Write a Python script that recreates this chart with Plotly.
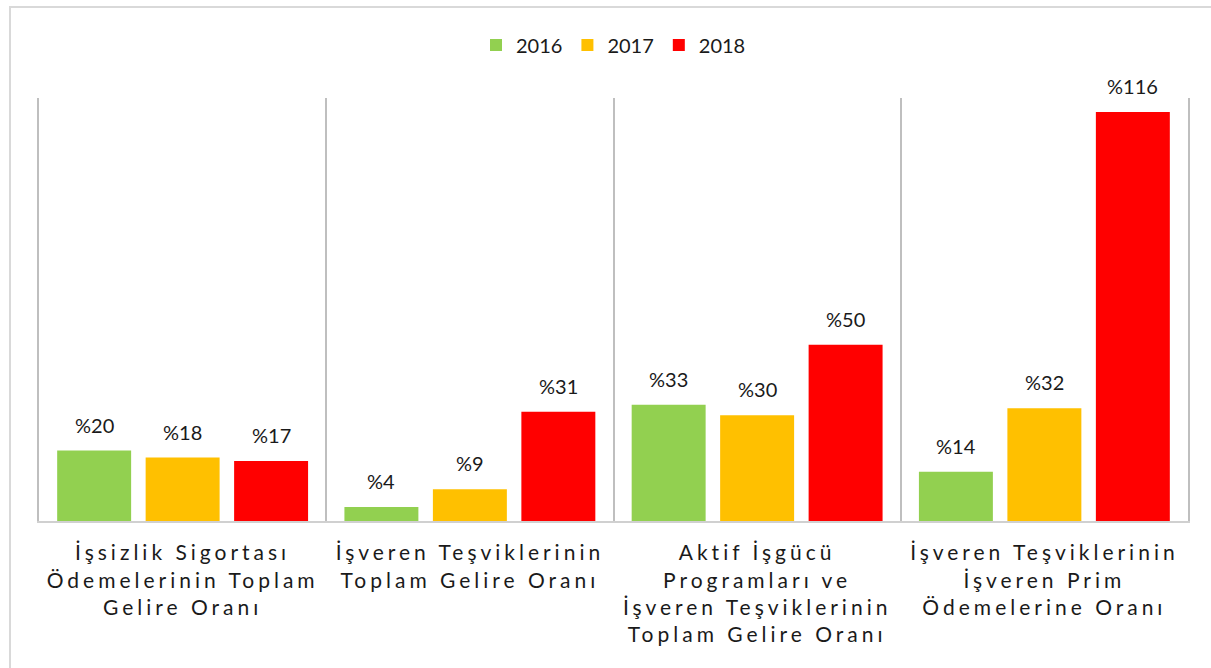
import plotly.graph_objects as go

categories = [
    "İşsizlik Sigortası<br>Ödemelerinin Toplam<br>Gelire Oranı",
    "İşveren Teşviklerinin<br>Toplam Gelire Oranı",
    "Aktif İşgücü<br>Programları ve<br>İşveren Teşviklerinin<br>Toplam Gelire Oranı",
    "İşveren Teşviklerinin<br>İşveren Prim<br>Ödemelerine Oranı",
]
years = ["2016", "2017", "2018"]
values_2016 = [20, 4, 33, 14]
values_2017 = [18, 9, 30, 32]
values_2018 = [17, 31, 50, 116]
series = [values_2016, values_2017, values_2018]
colors = ["#92D050", "#FFC000", "#FF0000"]

W, H = 1211, 668
ml, mr, mt, mb = 39, 23, 98, 147
plot_w = W - ml - mr
plot_h = H - mt - mb
cat_w = plot_w / len(categories)
bargap = 0.076
slot = cat_w * (1 - bargap) / len(years)

fig = go.Figure()
for yr, vals, col in zip(years, series, colors):
    fig.add_trace(go.Bar(name=yr, x=categories, y=vals, marker=dict(color=col, line=dict(width=0))))

annotations = []
for i, vals in enumerate(series):
    for c, v in zip(categories, vals):
        annotations.append(dict(
            x=c, y=v, xref="x", yref="y", text=f"%{v}", showarrow=False,
            xshift=(i - 1) * slot, yshift=26, yanchor="middle",
            font=dict(family="Lato, sans-serif", size=20, color="#1a1a1a"),
        ))

fig.update_layout(
    width=W, height=H,
    margin=dict(l=ml, r=mr, t=mt, b=mb),
    paper_bgcolor="white", plot_bgcolor="white",
    barmode="group", bargap=bargap, bargroupgap=0.164,
    showlegend=True,
    legend=dict(orientation="h", x=0.5, xanchor="center", y=(H - mb - 45) / plot_h, yanchor="middle",
                font=dict(family="Lato, sans-serif", size=20, color="#1a1a1a"),
                itemsizing="constant", traceorder="normal", itemwidth=30),
    annotations=annotations,
    xaxis=dict(type="category", showgrid=True, tickson="boundaries", gridcolor="#bfbfbf",
               gridwidth=1.5, showline=True, linecolor="#d0d0d0", linewidth=2,
               ticks="", ticklabelstandoff=12,
               tickfont=dict(family="Lato, sans-serif", size=21, color="#1a1a1a")),
    yaxis=dict(range=[0, 120], showgrid=False, showticklabels=False, zeroline=False,
               showline=True, mirror=True, linecolor="#bfbfbf", linewidth=1.5, ticks=""),
    shapes=[dict(type="rect", xref="paper", yref="paper",
                 x0=(10 - ml) / plot_w, x1=1.1,
                 y0=-0.6, y1=(H - mb - 7) / plot_h,
                 line=dict(color="#d9d9d9", width=2), fillcolor="rgba(0,0,0,0)", layer="below")],
)

post = """
var s = document.createElement('style');
s.innerHTML = 'html, body { margin: 0; padding: 0; overflow: hidden; } .xtick text, .xtick tspan { letter-spacing: 4px; }';
document.head.appendChild(s);
"""
fig.write_html("out.html", post_script=post, config={"displayModeBar": False})
